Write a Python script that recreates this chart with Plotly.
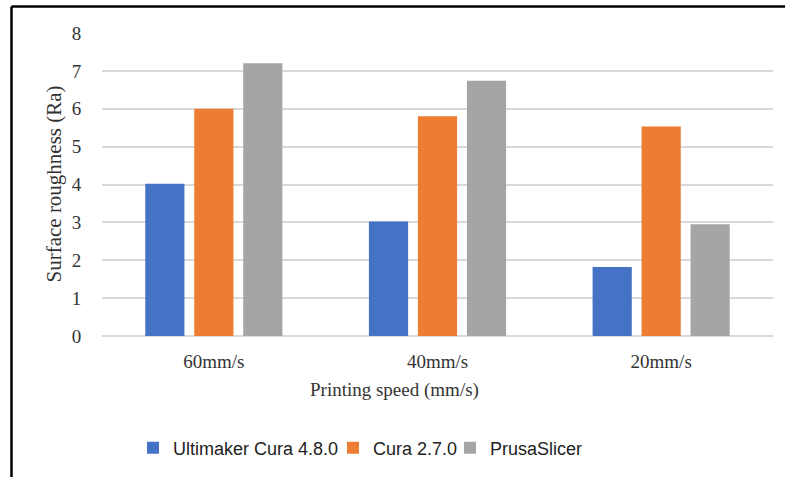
import plotly.graph_objects as go

categories = ["60mm/s", "40mm/s", "20mm/s"]
cura48 = [4.02, 3.02, 1.82]
cura27 = [6.0, 5.8, 5.53]
prusa = [7.2, 6.74, 2.95]
series_names = ["Ultimaker Cura 4.8.0", "Cura 2.7.0", "PrusaSlicer"]
colors = ["#4472C4", "#ED7D31", "#A5A5A5"]
y_ticks = [0, 1, 2, 3, 4, 5, 6, 7, 8]

W, H = 785, 477
L, R, T, B = 102, 12, 33, 140
pw, ph = W - L - R, H - T - B

def px_x(p):
    return (p - L) / pw

def px_y(p):
    return (H - B - p) / ph

legend_ids = ["legend", "legend2", "legend3"]
legend_text_starts = [174, 374, 491]

fig = go.Figure()
for name, vals, c, lid in zip(series_names, [cura48, cura27, prusa], colors, legend_ids):
    fig.add_trace(go.Bar(x=categories, y=vals, name=name, legend=lid,
                         marker=dict(color=c, line=dict(width=0))))

serif = "Liberation Serif, Times New Roman, serif"
legend_font = dict(family="Liberation Sans, Arial, sans-serif", size=18, color="#222")
legend_layout = {}
for lid, ts in zip(legend_ids, legend_text_starts):
    legend_layout[lid] = dict(orientation="h", x=px_x(ts - 41), xanchor="left", y=px_y(448),
                              yanchor="middle", font=legend_font, bgcolor="rgba(0,0,0,0)")

fig.update_layout(
    width=W, height=H,
    margin=dict(l=L, r=R, t=T, b=B),
    plot_bgcolor="white", paper_bgcolor="white",
    barmode="group", bargap=0.343, bargroupgap=0.2,
    showlegend=True,
    **legend_layout,
    xaxis=dict(showgrid=False, showline=False, zeroline=False,
               ticks="outside", ticklen=8, tickcolor="rgba(0,0,0,0)",
               tickfont=dict(family=serif, size=19, color="#333")),
    yaxis=dict(range=[0, 8], tickvals=y_ticks, showgrid=True, gridcolor="#D9D9D9", gridwidth=1.5,
               zeroline=True, zerolinecolor="#D9D9D9", zerolinewidth=1.5, showline=False,
               ticks="outside", ticklen=16, tickcolor="rgba(0,0,0,0)",
               tickfont=dict(family=serif, size=19, color="#333")),
    annotations=[
        dict(text="Surface roughness (Ra)", xref="paper", yref="paper", x=px_x(53), y=0.5,
             textangle=-90, showarrow=False, xanchor="center", yanchor="middle",
             font=dict(family=serif, size=21, color="#333")),
        dict(text="Printing speed (mm/s)", xref="paper", yref="paper", x=px_x(394), y=px_y(391),
             showarrow=False, xanchor="center", yanchor="middle",
             font=dict(family=serif, size=19, color="#333")),
    ],
    shapes=[
        dict(type="line", xref="paper", yref="paper", x0=px_x(11.5), x1=px_x(800), y0=px_y(6.5), y1=px_y(6.5),
             line=dict(color="black", width=2.5)),
        dict(type="line", xref="paper", yref="paper", x0=px_x(11.5), x1=px_x(11.5), y0=px_y(6.5), y1=px_y(490),
             line=dict(color="black", width=2.5)),
    ],
)

fig.write_html("out.html", config={"displayModeBar": False},
               post_script="document.body.style.margin='0';document.body.style.overflow='hidden';")
